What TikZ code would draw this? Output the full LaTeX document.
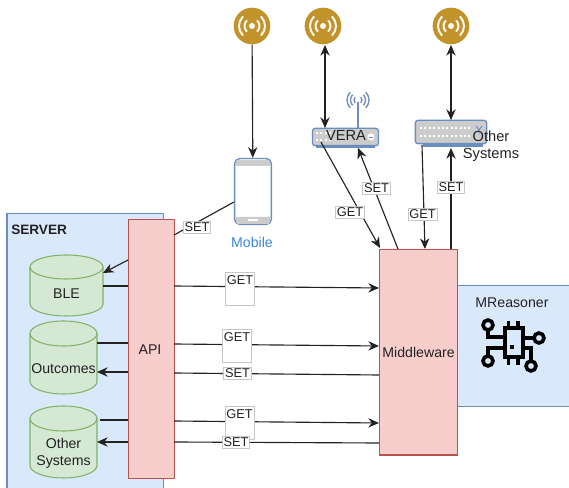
\documentclass[tikz,border=0pt]{standalone}
\usepackage{fontspec}
\setmainfont{Liberation Sans}
\usetikzlibrary{arrows.meta,calc}
\definecolor{bluefill}{HTML}{DAE8FC}
\definecolor{blueline}{HTML}{6C8EBF}
\definecolor{redfill}{HTML}{F8CECC}
\definecolor{redline}{HTML}{B85450}
\definecolor{greenfill}{HTML}{D5E8D4}
\definecolor{greenline}{HTML}{82B366}
\definecolor{gold}{HTML}{C2932B}
\definecolor{devgrey}{HTML}{CCCCCC}
\definecolor{ink}{HTML}{222222}
\definecolor{mobileblue}{HTML}{3A85D6}
\tikzset{
  every node/.style={font=\fontsize{10.6}{12.6}\selectfont,text=ink},
  pane/.style={draw=blueline,fill=bluefill,line width=.8pt,inner sep=0pt},
  block/.style={draw=redline,fill=redfill,line width=.9pt,inner sep=0pt},
  storeline/.style={draw=greenline,fill=greenfill,line width=.8pt},
  storetext/.style={inner sep=0pt,align=center},
  link/.style={draw=ink,line width=.85pt},
  arrow/.style={link,-{Stealth[length=8pt,width=7pt]}},
  both/.style={link,{Stealth[length=8pt,width=7pt]}-{Stealth[length=8pt,width=7pt]}},
  tag/.style={draw=black!22,fill=white,line width=.5pt,inner sep=1pt,font=\fontsize{9.6}{11}\selectfont},
  tallget/.style={tag,anchor=north,minimum width=21pt,text height=8pt,text depth=14.5pt,inner sep=1pt},
  antenna/.style={circle,fill=gold,minimum size=27.5pt,inner sep=0pt},
  wave/.style={draw=white!92!gold,line width=1.5pt,line cap=round},
  device/.style={draw=blueline,fill=devgrey,line width=1pt,rounded corners=2pt,inner sep=0pt},
  dotrow/.style={draw=white,line width=1.5pt,dash pattern=on 1.5pt off 1.8pt},
  chipline/.style={draw=black,line width=2.7pt}
}
\newcommand{\waves}[1]{%
  \fill[white] (#1) circle (3);
  \draw[wave] ($(#1)+(-45:7.5)$) arc (-45:45:7.5);
  \draw[wave] ($(#1)+(135:7.5)$) arc (135:225:7.5);
  \draw[wave] ($(#1)+(-45:13)$) arc (-45:45:13);
  \draw[wave] ($(#1)+(135:13)$) arc (135:225:13);
}
% #1 name, #2 left, #3 right, #4 top, #5 bottom, #6 ellipse height, #7 text y, #8 text
\newcommand{\storedrum}[8]{%
  \pgfmathsetmacro{\drumrx}{(#3-#2)/2}
  \path[storeline] (#2,#4+#6) -- (#2,#5-#6) arc (180:360:\drumrx*.75pt and #6*.75pt) -- (#3,#4+#6) arc (0:180:\drumrx*.75pt and #6*.75pt) -- cycle;
  \path[storeline,fill=none] (#2,#4+#6) arc (180:360:\drumrx*.75pt and #6*.75pt);
  \node[storetext] (#1) at ({(#2+#3)/2},#7) {#8};
}
\begin{document}
\begin{tikzpicture}[x=.75pt,y=-.75pt]
\useasboundingbox (0,0) rectangle (569,488);
% panes
\node[pane,anchor=north west,minimum width=117pt,minimum height=220pt] (server) at (6.5,213) {};
\node[anchor=west,inner sep=0pt,font=\fontsize{10.2}{12}\selectfont\bfseries] (servertext) at (11,230) {SERVER};
\node[pane,anchor=north west,minimum width=90pt,minimum height=90.5pt] (reasoner) at (457,285) {};
\node (reasonertext) at (512,303) {MReasoner};
% blocks
\node[block,anchor=north west,minimum width=34.5pt,minimum height=194pt,text depth=0pt] (api) at (128,219) {};
\node (apitext) at (150,350) {API};
\node[block,anchor=north west,minimum width=58.5pt,minimum height=154pt] (mid) at (379,249) {Middleware};
% stores
\storedrum{ble}{30}{103}{255}{316}{12}{294}{BLE}
\storedrum{out}{30}{97}{321}{394}{12.5}{369}{Outcomes}
\storedrum{oth}{30}{97}{406}{478}{12.5}{453.5}{Other\\Systems}
% antennas
\node[antenna] (a1) at (252,26) {};
\node[antenna] (a2) at (323,26) {};
\node[antenna] (a3) at (451,26) {};
\waves{a1}\waves{a2}\waves{a3}
% phone
\node[draw=blueline,fill=white,line width=1.1pt,rounded corners=4pt,minimum width=27.5pt,minimum height=49.5pt,inner sep=0pt] (phone) at (253,191.5) {};
\fill[devgrey] (237,160) -- (269,160) -- (271,166) -- (235,166) -- cycle;
\fill[devgrey] (235,217) -- (271,217) -- (269,224) -- (237,224) -- cycle;
\fill[white] (248,219.5) rectangle (258,221.5);
\node[text=mobileblue] (mobile) at (252,242) {Mobile};
% VERA router
\draw[blueline,line width=1.3pt] (358,128) -- (358,102);
\foreach \r in {4,7.5,11}{
  \draw[blueline,line width=1pt] ($(358,100)+(-45:\r)$) arc (-45:45:\r);
  \draw[blueline,line width=1pt] ($(358,100)+(135:\r)$) arc (135:225:\r);
}
\fill[blueline] (316,144) rectangle (375,148);
\node[device,minimum width=49.5pt,minimum height=13pt] (vera) at (345.5,137) {};
\draw[dotrow] (316,133) -- (332,133);
\draw[dotrow] (316,140) -- (332,140);
\fill[white] (371,137) circle (3.6);
\draw[blueline,line width=.6pt] (369,137) -- (373,137);
\node[font=\fontsize{11}{13}\selectfont] (veratext) at (346,135) {VERA};
% other systems device
\fill[blueline] (423,140) rectangle (483,147);
\node[device,minimum width=53.5pt,minimum height=17.5pt] (rack) at (451,132) {};
\draw[dotrow] (420,128) -- (470,128);
\draw[dotrow] (420,136) -- (470,136);
\draw[blueline,line width=.7pt] (476,126) -- (479,130) -- (482,126) (479,130) -- (479,134);
\node[align=center,font=\fontsize{11}{12.8}\selectfont] (racktext) at (491,146.5) {Other\\Systems};
% connectors
\coordinate (b1) at (174,286); \coordinate (m1) at (379,288);
\coordinate (b2) at (174,344); \coordinate (m2) at (379,346);
\coordinate (b3) at (174,373); \coordinate (m3) at (379,375);
\coordinate (b4) at (174,421); \coordinate (m4) at (379,423);
\coordinate (b5) at (174,442); \coordinate (m5) at (379,443);
\draw[arrow] (b1) -- (m1);
\draw[arrow] (b2) -- (m2);
\draw[link] (m3) -- (b3);
\draw[arrow] (b4) -- (m4);
\draw[link] (m5) -- (b5);
\node[tallget] (g1) at (240,272) {GET};
\node[tallget] (g2) at (237,329.5) {GET};
\node[tag] (s2) at (237.5,373) {SET};
\node[tallget] (g3) at (239.5,406.5) {GET};
\node[tag] (s3) at (236,442.5) {SET};
% inside server
\coordinate (l1) at (128,286); \coordinate (l1e) at (103,286);
\coordinate (l2) at (128,343); \coordinate (l2e) at (97,343);
\coordinate (l3) at (128,372); \coordinate (l3e) at (97,372);
\coordinate (l4) at (128,420); \coordinate (l4e) at (100,420);
\coordinate (l5) at (128,442); \coordinate (l5e) at (97,442);
\draw[link] (l1) -- (l1e);
\draw[link] (l2) -- (l2e);
\draw[arrow] (l3) -- (l3e);
\draw[link] (l4) -- (l4e);
\draw[arrow] (l5) -- (l5e);
\coordinate (l6) at (128,260); \coordinate (l6e) at (103,273);
\draw[arrow] (l6) -- (l6e);
\coordinate (p1) at (234,202); \coordinate (p2) at (174,235);
\draw[link] (p1) -- (p2);
\node[tag] (smob) at (197,227) {SET};
% top
\draw[arrow] (a1) -- (phone);
\coordinate (a2b) at (325,45); \coordinate (vt) at (325,128);
\draw[both] (a2b) -- (vt);
\coordinate (a3b) at (451,45); \coordinate (rt) at (451,120);
\draw[both] (a3b) -- (rt);
\coordinate (v1) at (321,142); \coordinate (mv1) at (380,248);
\draw[arrow] (v1) -- (mv1);
\coordinate (mv2) at (398,249); \coordinate (v2) at (358,148);
\draw[arrow] (mv2) -- (v2);
\coordinate (r1) at (422,145); \coordinate (mr1) at (425,249);
\draw[arrow] (r1) -- (mr1);
\coordinate (mr2) at (451,249); \coordinate (r2) at (451,148);
\draw[arrow] (mr2) -- (r2);
\node[tag] (gv) at (350,212) {GET};
\node[tag] (sv) at (376.5,188) {SET};
\node[tag] (gr) at (422.5,214.5) {GET};
\node[tag] (sr) at (451,187.5) {SET};
% chip icon
\draw[chipline] (505,328) rectangle (523,357);
\draw[chipline] (508.5,321) -- (508.5,328) (518,321) -- (518,328) (508.5,357) -- (508.5,365) (518,357) -- (518,365);
\draw[chipline] (488,330) -- (488,337) -- (505,337);
\draw[chipline] (534,338) -- (523,338);
\draw[chipline] (488,356) -- (488,348) -- (505,348);
\draw[chipline] (531,361) -- (531,348) -- (523,348);
\draw[chipline] (488,325) circle (5);
\draw[chipline] (539,338) circle (5);
\draw[chipline] (488,361) circle (5);
\draw[chipline] (531,366) circle (5);
\fill[black] (509.5,345.5) rectangle (513.5,349.5);
\end{tikzpicture}
\end{document}
